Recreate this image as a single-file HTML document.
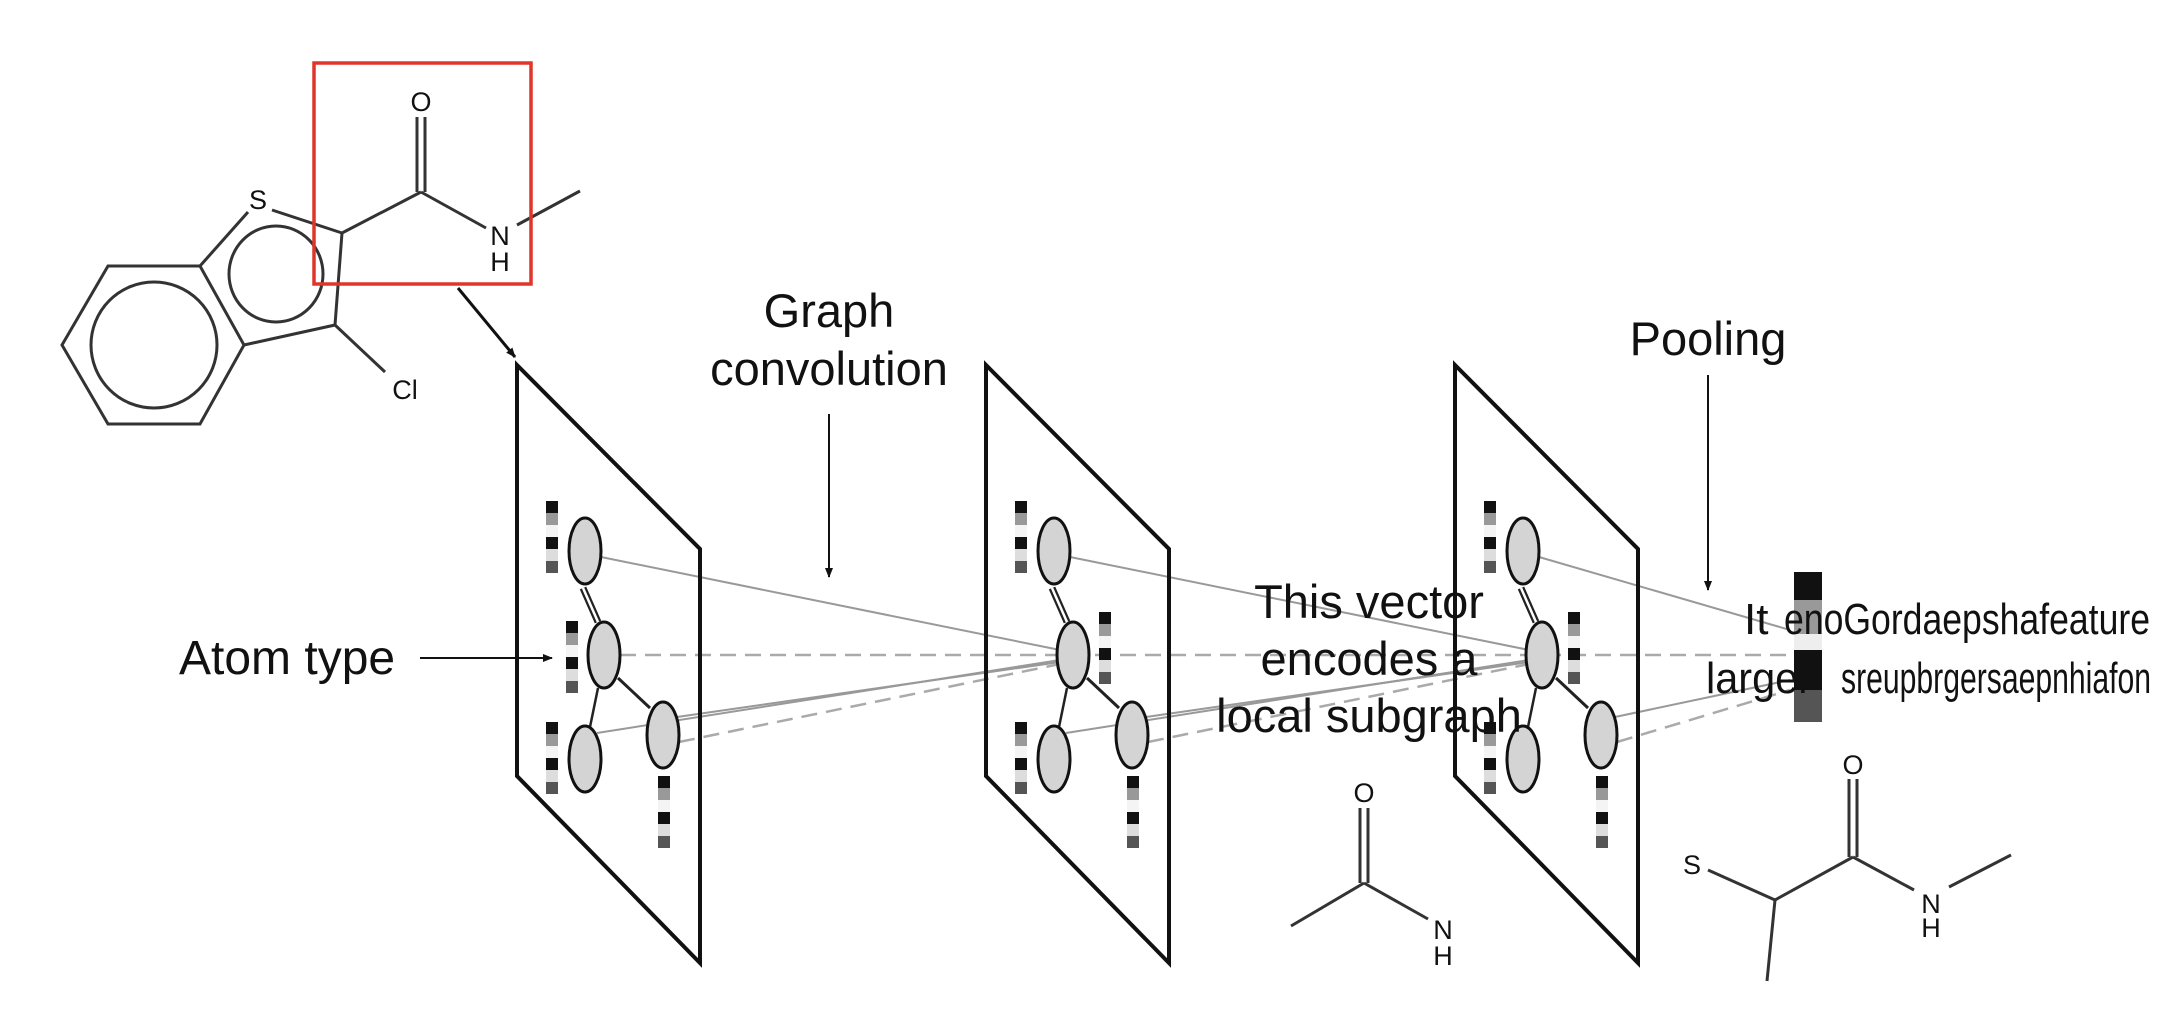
<!DOCTYPE html>
<html><head><meta charset="utf-8"><style>
html,body{margin:0;padding:0;background:#fff;}
svg{display:block;}
text{font-family:"Liberation Sans",Arial,sans-serif;fill:#111;}
</style></head><body>
<svg width="2176" height="1022" viewBox="0 0 2176 1022" xmlns="http://www.w3.org/2000/svg">
<defs>
<g id="bar">
<rect x="0" y="0" width="12" height="12" fill="#111"/>
<rect x="0" y="12" width="12" height="12" fill="#999"/>
<rect x="0" y="24" width="12" height="12" fill="#f4f4f4"/>
<rect x="0" y="36" width="12" height="12" fill="#111"/>
<rect x="0" y="48" width="12" height="12" fill="#ddd"/>
<rect x="0" y="60" width="12" height="12" fill="#555"/>
</g>
<marker id="ah" markerWidth="10" markerHeight="10" refX="9" refY="5" orient="auto" markerUnits="userSpaceOnUse">
<path d="M0,1 L10,5 L0,9 Z" fill="#111"/>
</marker>
</defs>

<g stroke="#333" stroke-width="3" fill="none">
<polygon points="62,345 108,266 200,266 244,345 200,424 108,424"/>
<circle cx="154" cy="345" r="63"/>
<line x1="200" y1="266" x2="248" y2="212"/>
<line x1="272" y1="210" x2="342" y2="233"/>
<line x1="342" y1="233" x2="335" y2="325"/>
<line x1="335" y1="325" x2="244" y2="345"/>
<ellipse cx="276" cy="274" rx="47" ry="48"/>
<line x1="335" y1="325" x2="385" y2="372"/>
<line x1="342" y1="233" x2="421" y2="192"/>
<line x1="417" y1="117" x2="417" y2="192"/>
<line x1="425" y1="117" x2="425" y2="192"/>
<line x1="421" y1="192" x2="486" y2="228"/>
<line x1="517" y1="225" x2="580" y2="191"/>
</g>
<text x="258" y="209" font-size="27" text-anchor="middle">S</text>
<text x="405" y="399" font-size="27" text-anchor="middle">Cl</text>
<text x="421" y="111" font-size="27" text-anchor="middle">O</text>
<text x="500" y="245" font-size="27" text-anchor="middle">N</text>
<text x="500" y="271" font-size="27" text-anchor="middle">H</text>
<rect x="314" y="63" width="217" height="221" fill="none" stroke="#e0352a" stroke-width="3.5"/>
<line x1="458" y1="288" x2="515" y2="357" stroke="#111" stroke-width="3" marker-end="url(#ah)"/>

<text x="829" y="327" font-size="47" text-anchor="middle">Graph</text>
<text x="829" y="385" font-size="47" text-anchor="middle">convolution</text>
<line x1="829" y1="414" x2="829" y2="577" stroke="#111" stroke-width="2" marker-end="url(#ah)"/>
<text x="1708" y="355" font-size="47" text-anchor="middle">Pooling</text>
<line x1="1708" y1="375" x2="1708" y2="590" stroke="#111" stroke-width="2" marker-end="url(#ah)"/>
<text x="179" y="674" font-size="48">Atom type</text>
<line x1="420" y1="658" x2="552" y2="658" stroke="#111" stroke-width="2" marker-end="url(#ah)"/>

<g stroke="#999" stroke-width="2" fill="none">
<line x1="601" y1="557" x2="1060" y2="650"/>
<line x1="597" y1="733" x2="1060" y2="660"/>
<line x1="677" y1="717" x2="1060" y2="662"/>
<line x1="1070" y1="557" x2="1529" y2="650"/>
<line x1="1066" y1="733" x2="1529" y2="660"/>
<line x1="1146" y1="717" x2="1529" y2="662"/>
<line x1="1539" y1="557" x2="1790" y2="630"/>
<line x1="1615" y1="717" x2="1790" y2="680"/>
</g>
<g stroke="#aaa" stroke-width="2.5" fill="none" stroke-dasharray="16 9">
<line x1="620" y1="655" x2="1794" y2="655"/>
<line x1="679" y1="742" x2="1060" y2="664"/>
<line x1="1148" y1="742" x2="1529" y2="664"/>
<line x1="1617" y1="742" x2="1790" y2="690"/>
</g>

<g id="p1">
<polygon points="517,365 700,549 700,963 517,776" fill="none" stroke="#111" stroke-width="4"/>
<line x1="583" y1="588" x2="598" y2="622" stroke="#222" stroke-width="7"/>
<line x1="583" y1="588" x2="598" y2="622" stroke="#fff" stroke-width="2.5"/>
<line x1="598" y1="688" x2="590" y2="727" stroke="#222" stroke-width="2.5"/>
<line x1="618" y1="678" x2="650" y2="708" stroke="#222" stroke-width="3"/>
<g fill="#d4d4d4" stroke="#111" stroke-width="3">
<ellipse cx="585" cy="551" rx="16" ry="33"/>
<ellipse cx="604" cy="655" rx="16" ry="33"/>
<ellipse cx="585" cy="759" rx="16" ry="33"/>
<ellipse cx="663" cy="735" rx="16" ry="33"/>
</g>
<use href="#bar" x="546" y="501"/>
<use href="#bar" x="546" y="722"/>
<use href="#bar" x="658" y="776"/>
</g>
<use href="#bar" x="566" y="621"/>
<use href="#p1" x="469"/>
<use href="#bar" x="1099" y="612"/>
<use href="#p1" x="938"/>
<use href="#bar" x="1568" y="612"/>

<text x="1369" y="618" font-size="47" text-anchor="middle">This vector</text>
<text x="1369" y="675" font-size="47" text-anchor="middle">encodes a</text>
<text x="1369" y="732" font-size="47" text-anchor="middle">local subgraph</text>

<rect x="1794" y="572" width="28" height="28" fill="#111"/>
<rect x="1794" y="600" width="28" height="34" fill="#999"/>
<rect x="1794" y="634" width="28" height="16" fill="#eee"/>
<rect x="1794" y="650" width="28" height="40" fill="#111"/>
<rect x="1794" y="690" width="28" height="32" fill="#555"/>
<text x="1744" y="634" font-size="44">It</text>
<text x="1784" y="634" font-size="44" textLength="366" lengthAdjust="spacingAndGlyphs">enoGordaepshafeature</text>
<text x="1706" y="693" font-size="44" textLength="106" lengthAdjust="spacingAndGlyphs">larger</text>
<text x="1841" y="693" font-size="44" textLength="310" lengthAdjust="spacingAndGlyphs">sreupbrgersaepnhiafon</text>

<g stroke="#333" stroke-width="3" fill="none">
<line x1="1360" y1="808" x2="1360" y2="883"/>
<line x1="1368" y1="808" x2="1368" y2="883"/>
<line x1="1364" y1="883" x2="1291" y2="926"/>
<line x1="1364" y1="883" x2="1428" y2="919"/>
<line x1="1708" y1="870" x2="1775" y2="900"/>
<line x1="1775" y1="900" x2="1767" y2="981"/>
<line x1="1775" y1="900" x2="1853" y2="857"/>
<line x1="1849" y1="779" x2="1849" y2="857"/>
<line x1="1857" y1="779" x2="1857" y2="857"/>
<line x1="1853" y1="857" x2="1914" y2="890"/>
<line x1="1949" y1="887" x2="2011" y2="855"/>
</g>
<text x="1364" y="802" font-size="27" text-anchor="middle">O</text>
<text x="1443" y="939" font-size="27" text-anchor="middle">N</text>
<text x="1443" y="965" font-size="27" text-anchor="middle">H</text>
<text x="1692" y="874" font-size="27" text-anchor="middle">S</text>
<text x="1853" y="774" font-size="27" text-anchor="middle">O</text>
<text x="1931" y="913" font-size="27" text-anchor="middle">N</text>
<text x="1931" y="937" font-size="27" text-anchor="middle">H</text>
</svg>
</body></html>
